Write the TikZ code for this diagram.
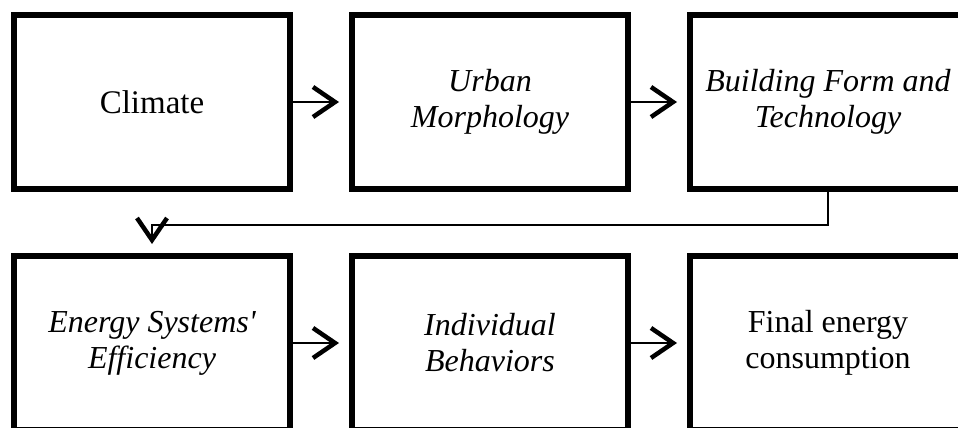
\documentclass[tikz,border=0pt]{standalone}
\usepackage{fontspec}
\setmainfont{Liberation Serif}
\usetikzlibrary{arrows.meta}

\begin{document}
\begin{tikzpicture}[x=1pt, y=1pt]
    \useasboundingbox (0,0) rectangle (958,-428);
    \clip (0,0) rectangle (958,-428);
    \begin{scope}[stage/.style={draw, line width=6pt, minimum width=276pt, minimum height=174pt, inner sep=0pt, align=center, font=\fontsize{32}{36}\selectfont},
                  flow/.style={-{Straight Barb[length=22pt, width=30pt, line width=4.5pt]}, line width=2.5pt}]
        \node[stage] (b1) at (152, -102) {\fontsize{33}{36}\selectfont Climate};
        \node[stage] (b2) at (490, -102) {\itshape Urban\\\itshape Morphology};
        \node[stage] (b3) at (828, -102) {\itshape Building Form and\\\itshape Technology};
        \node[stage] (b4) at (152, -343) {\itshape Energy Systems\textquotesingle\\\itshape Efficiency};
        \node[stage] (b5) at (490, -343) {\itshape Individual\\\itshape Behaviors};
        \node[stage] (b6) at (828, -343) {Final energy\\consumption};
        \begin{scope}[flow]
        \path (b1.east) edge[shorten >=10pt] (b2.west) ;
        \path (b2.east) edge[shorten >=10pt] (b3.west) ;
        \draw[shorten >=9pt] (b3.south) -- ++(0,-33) -| (b4.north) ;
        \path (b4.east) edge[shorten >=10pt] (b5.west) ;
        \path (b5.east) edge[shorten >=10pt] (b6.west) ;
        \end{scope}
    \end{scope}
\end{tikzpicture}
\end{document}
